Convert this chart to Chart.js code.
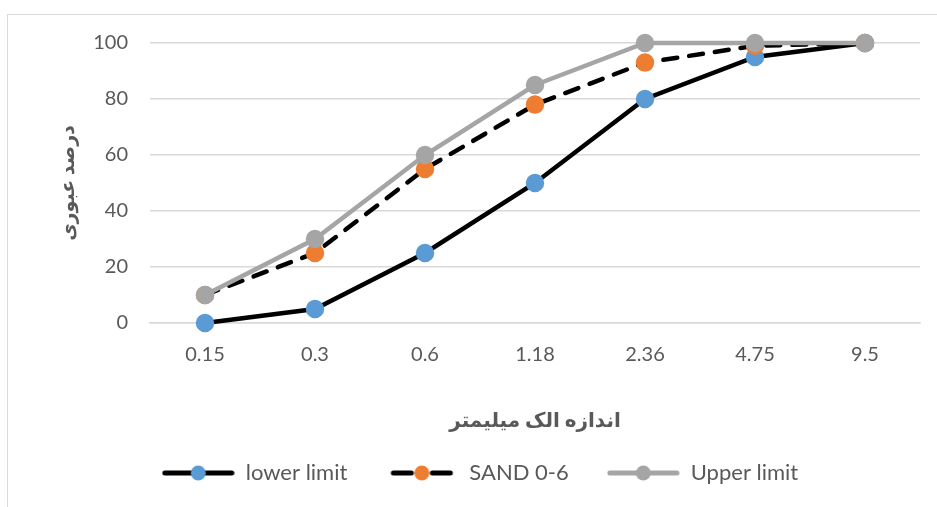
<!DOCTYPE html>
<html>
<head>
<meta charset="utf-8">
<script src="https://cdn.jsdelivr.net/npm/chart.js@4"></script>
<style>
  html, body { margin: 0; padding: 0; background: #fff; }
  #wrap { position: relative; width: 937px; height: 507px; overflow: hidden; }
  #frame { position: absolute; left: 7px; top: 14px; width: 960px; height: 520px; border: 1px solid #d9d9d9; }
  canvas { position: absolute; left: 0; top: 0; }
</style>
</head>
<body>
<div id="wrap">
  <div id="frame"></div>
  <canvas id="chart" width="937" height="507"></canvas>
</div>
<script>
const sieves = ['0.15', '0.3', '0.6', '1.18', '2.36', '4.75', '9.5'];
const lowerLimit = [0, 5, 25, 50, 80, 95, 100];
const sand06 = [10, 25, 55, 78, 93, 99, 100];
const upperLimit = [10, 30, 60, 85, 100, 100, 100];
const yTicks = [0, 20, 40, 60, 80, 100];

const FONT = 'Lato, "DejaVu Sans", sans-serif';
const TEXT = '#595959';

// little line+dot pictures for the legend, like Excel draws them
function legendIcon(lineColor, dotColor, dashed) {
  const c = document.createElement('canvas');
  c.width = 73; c.height = 18;
  const ctx = c.getContext('2d');
  ctx.strokeStyle = lineColor;
  ctx.lineWidth = 5;
  ctx.lineCap = 'round';
  ctx.beginPath();
  if (dashed) {
    ctx.moveTo(8, 9); ctx.lineTo(26, 9);
    ctx.moveTo(47, 9); ctx.lineTo(65, 9);
  } else {
    ctx.moveTo(3, 9); ctx.lineTo(70, 9);
  }
  ctx.stroke();
  ctx.fillStyle = dotColor;
  ctx.beginPath();
  ctx.arc(36.5, 9, 7.5, 0, Math.PI * 2);
  ctx.fill();
  return c;
}
const icons = [
  legendIcon('#000', '#5B9BD5', false),
  legendIcon('#000', '#ED7D31', true),
  legendIcon('#A5A5A5', '#A5A5A5', false)
];

new Chart(document.getElementById('chart'), {
  type: 'line',
  data: {
    labels: sieves,
    datasets: [
      {
        label: 'lower limit',
        data: lowerLimit,
        borderColor: '#000',
        borderWidth: 4.5,
        pointBackgroundColor: '#5B9BD5',
        pointBorderColor: '#5B9BD5',
        pointRadius: 7,
        order: 2,
        clip: false
      },
      {
        label: 'SAND 0-6',
        data: sand06,
        borderColor: '#000',
        borderWidth: 4.5,
        borderDash: [14, 12],
        borderCapStyle: 'round',
        pointBackgroundColor: '#ED7D31',
        pointBorderColor: '#ED7D31',
        pointRadius: 7,
        order: 1,
        clip: false
      },
      {
        label: 'Upper limit',
        data: upperLimit,
        borderColor: '#A5A5A5',
        borderWidth: 4.5,
        pointBackgroundColor: '#A5A5A5',
        pointBorderColor: '#A5A5A5',
        pointRadius: 7,
        order: 0,
        clip: false
      }
    ]
  },
  options: {
    responsive: false,
    animation: false,
    layout: { padding: { left: 40, right: 17, top: 43, bottom: 23 } },
    plugins: {
      tooltip: { enabled: false },
      legend: {
        position: 'bottom',
        maxHeight: 60,
        labels: {
          usePointStyle: true,
          pointStyleWidth: 73,
          padding: 38,
          color: TEXT,
          font: { family: FONT, size: 22 },
          sort: (a, b) => a.datasetIndex - b.datasetIndex,
          generateLabels(chart) {
            const items = Chart.defaults.plugins.legend.labels.generateLabels(chart);
            items.forEach(it => { it.pointStyle = icons[it.datasetIndex]; });
            return items;
          }
        }
      }
    },
    scales: {
      x: {
        offset: true,
        grid: { display: false, drawTicks: false },
        border: { color: '#d9d9d9', width: 1.5 },
        ticks: { color: TEXT, font: { family: FONT, size: 20 }, padding: 20, maxRotation: 0 },
        title: {
          display: true,
          text: 'اندازه الک میلیمتر',
          color: TEXT,
          font: { family: FONT, size: 20, weight: 'bold' },
          padding: { top: 0, bottom: -9 }
        },
        afterFit(scale) { scale.height = 101; }
      },
      y: {
        min: 0,
        max: 100,
        afterBuildTicks(scale) { scale.ticks = yTicks.map(v => ({ value: v })); },
        grid: { color: '#d9d9d9', lineWidth: 1.5, drawTicks: false },
        border: { display: false },
        ticks: { color: TEXT, font: { family: FONT, size: 20 }, padding: 22 },
        title: {
          display: true,
          text: 'درصد عبوری',
          color: TEXT,
          font: { family: FONT, size: 19, weight: 'bold' },
          padding: { top: 16, bottom: 0 }
        },
        afterFit(scale) { scale.width = 110; }
      }
    }
  }
});
</script>
</body>
</html>
